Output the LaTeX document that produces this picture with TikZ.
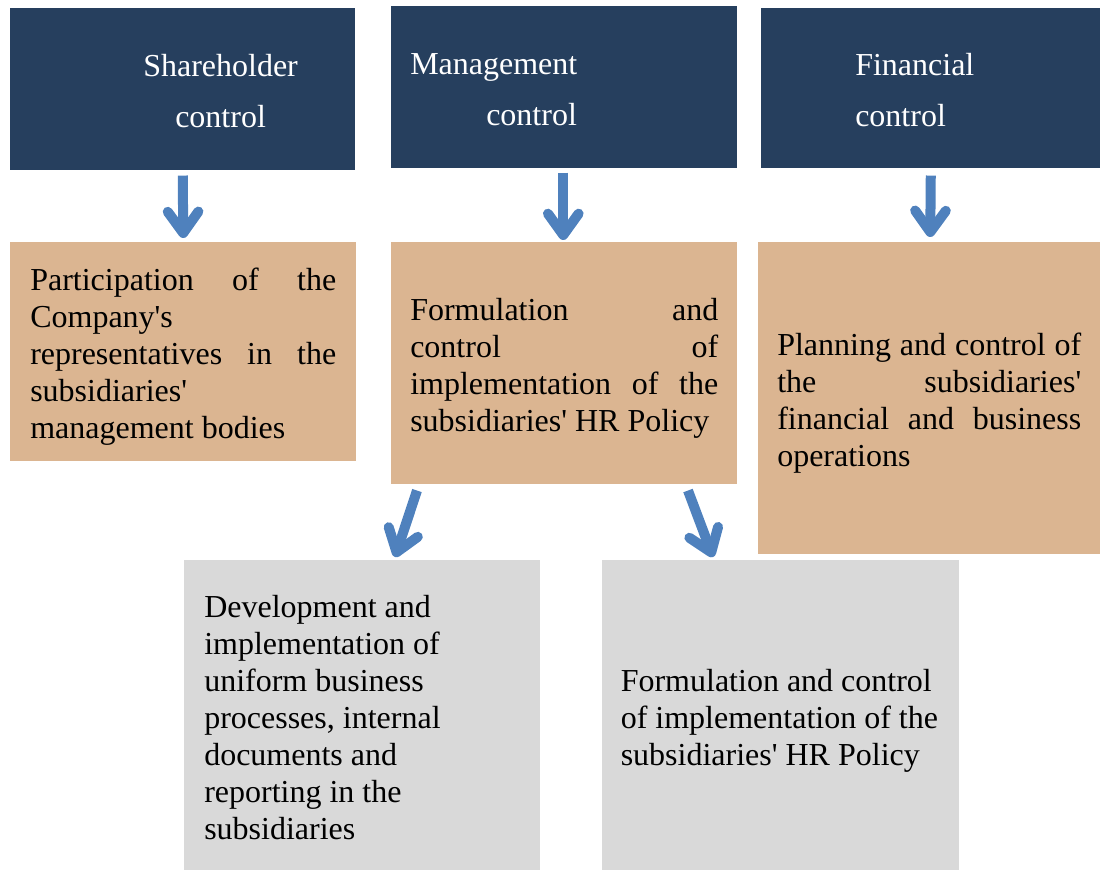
\documentclass[tikz,border=0pt]{standalone}
\usepackage{fontspec}
\setmainfont{Liberation Serif}[Ligatures=TeXOff]
\usetikzlibrary{arrows.meta,calc}
\definecolor{navy}{RGB}{38,63,94}
\definecolor{tanc}{RGB}{219,181,145}
\definecolor{greyc}{RGB}{217,217,217}
\definecolor{arrowblue}{RGB}{79,129,189}
\hyphenpenalty=10000
\newcommand\topstr{\rule{0pt}{25.5pt}}
\newcommand\htopstr{\rule{0pt}{23pt}}
\newcommand\botstr{\rule[-6pt]{0pt}{6pt}}
\newcommand\hbotstr{\rule[-4.5pt]{0pt}{4.5pt}}
\begin{document}
\begin{tikzpicture}[x=0.75pt,y=-0.75pt,
  headbox/.style={rectangle, fill=navy, text=white, anchor=north west, inner sep=0pt,
    align=flush left, font=\fontsize{24pt}{38.25pt}\selectfont},
  tanbox/.style={rectangle, fill=tanc, text=black, anchor=north west, inner sep=0pt,
    align=justify, font=\fontsize{24pt}{27.75pt}\selectfont},
  greybox/.style={rectangle, fill=greyc, text=black, anchor=north west, inner sep=0pt,
    align=flush left, font=\fontsize{24pt}{27.75pt}\selectfont},
  arr/.style={draw=arrowblue, line width=7.5pt,
    -{Straight Barb[length=16pt,width=23pt,round]}}
]
\useasboundingbox (0,0) rectangle (1101,870);

% top row
\node[headbox, minimum width=258.75pt, minimum height=121.5pt, text width=258.75pt] (sh) at (10,8)
  {\htopstr\hspace*{99.75pt}Shareholder\\\hspace*{123.75pt}control\hbotstr};
\node[headbox, minimum width=259.5pt, minimum height=121.5pt, text width=259.5pt] (mg) at (391,6)
  {\htopstr\hspace*{14.25pt}Management\\\hspace*{71.25pt}control\hbotstr};
\node[headbox, minimum width=254.25pt, minimum height=120pt, text width=254.25pt] (fn) at (761,8)
  {\htopstr\hspace*{70.5pt}Financial\\\hspace*{70.5pt}control\hbotstr};

% middle row
\node[tanbox, minimum width=259.5pt, minimum height=164.25pt, text width=229.5pt] (t1) at (10,242)
  {\topstr Participation of the\linebreak Company's\linebreak representatives in the\linebreak subsidiaries'\linebreak management bodies\botstr};
\node[tanbox, minimum width=259.5pt, minimum height=181.5pt, text width=231pt] (t2) at (391,242)
  {\topstr Formulation and\linebreak control of\linebreak implementation of the\linebreak subsidiaries' HR Policy\botstr};
\node[tanbox, minimum width=256.5pt, minimum height=234pt, text width=228pt] (t3) at (758,242)
  {\topstr Planning and control of\linebreak the subsidiaries'\linebreak financial and business\linebreak operations\botstr};

% bottom row
\node[greybox, minimum width=267pt, minimum height=232.5pt, text width=237pt] (g1) at (184,560)
  {\topstr Development and\\implementation of\\uniform business\\processes, internal\\documents and\\reporting in the\\subsidiaries\botstr};
\node[greybox, minimum width=267.75pt, minimum height=232.5pt, text width=240pt] (g2) at (602,560)
  {\topstr Formulation and control\\of implementation of the\\subsidiaries' HR Policy\botstr};

% arrows
\draw[arr] ($(sh.south)+(0,5)$) -- ($(t1.north)+(0,-4)$);
\draw[arr] ($(mg.south)+(-1,4)$) -- ($(t2.north)+(-1,-2)$);
\draw[arr] ($(fn.south)+(0,7)$) -- ($(t3.north)+(1,-5)$);
\draw[arr] ($(t2.south west)+(26,6)$) -- ($(g1.north west)+(211,-3)$);
\draw[arr] ($(t2.south west)+(297,6)$) -- ($(g2.north west)+(111,-3)$);
\end{tikzpicture}
\end{document}
